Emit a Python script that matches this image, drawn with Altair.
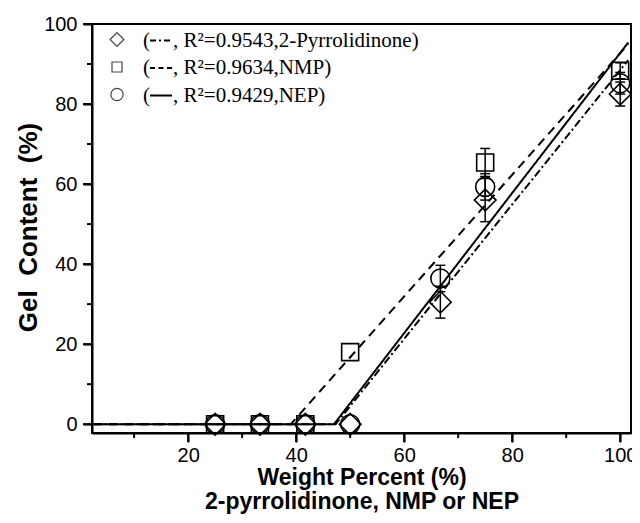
import altair as alt
import pandas as pd

# ---------------- data ----------------
series = ["2-Pyrrolidinone", "NMP", "NEP"]
r2_values = ["0.9543", "0.9634", "0.9429"]

x_pyr = [25, 33.3, 41.7, 50, 66.7, 75, 100]
y_pyr = [0, 0, 0, 0, 30.5, 56, 82.5]
e_pyr = [0, 0, 0, 0, 4, 5.4, 3]

x_nmp = [25, 33.3, 41.7, 50, 75, 100]
y_nmp = [0, 0, 0, 18, 65.4, 88.3]
e_nmp = [0, 0, 0, 0, 3.5, 2]

x_nep = [25, 33.3, 41.7, 50, 66.7, 75, 100]
y_nep = [0, 0, 0, 0, 36.4, 59.3, 85.2]
e_nep = [0, 0, 0, 0, 3.3, 3.3, 2.7]

# fitted lines (flat at zero, then linear) : break points
fit_x_pyr = [2.5, 47.3, 101.5]
fit_y_pyr = [0, 0, 91]
fit_x_nmp = [2.5, 39, 101.5]
fit_y_nmp = [0, 0, 95]
fit_x_nep = [2.5, 47, 101.5]
fit_y_nep = [0, 0, 95.4]

x_major = [20, 40, 60, 80, 100]
x_minor = [10, 30, 50, 70, 90]
y_major = [0, 20, 40, 60, 80, 100]
y_minor = [10, 30, 50, 70, 90]

# ---------------- tables ----------------
rows = []
for s, xs, ys, es in [(series[0], x_pyr, y_pyr, e_pyr),
                      (series[1], x_nmp, y_nmp, e_nmp),
                      (series[2], x_nep, y_nep, e_nep)]:
    for a, b, c in zip(xs, ys, es):
        rows.append({"series": s, "x": a, "y": b, "err": c})
pts = pd.DataFrame(rows)

frows = []
for s, xs, ys in [(series[0], fit_x_pyr, fit_y_pyr),
                  (series[1], fit_x_nmp, fit_y_nmp),
                  (series[2], fit_x_nep, fit_y_nep)]:
    for i, (a, b) in enumerate(zip(xs, ys)):
        frows.append({"series": s, "x": a, "y": b, "o": i})
fits = pd.DataFrame(frows)

leg = pd.DataFrame({"series": series, "r2": r2_values, "idx": [0, 1, 2]})

xt_major = pd.DataFrame({"x": x_major})
xt_minor = pd.DataFrame({"x": x_minor})
yt_major = pd.DataFrame({"y": y_major})
yt_minor = pd.DataFrame({"y": y_minor})

# ---------------- scales / axes ----------------
FONT = "Liberation Sans"
NB = "\u00a0"
W, H = 539, 409
XMIN, XMAX, YMIN, YMAX = 2.2, 102, -2.2, 100
xscale = alt.Scale(domain=[XMIN, XMAX], nice=False, zero=False)
yscale = alt.Scale(domain=[YMIN, YMAX], nice=False, zero=False)
shape_scale = alt.Scale(domain=series, range=["diamond", "square", "circle"])
dash_scale = alt.Scale(domain=series, range=[[8, 3, 2, 3], [9, 6], [1, 0]])

common_axis = dict(
    grid=False, domainColor="black", domainWidth=2,
    ticks=True, tickSize=9, tickWidth=2, tickColor="black",
    labelColor="black", titleColor="black", labelFont=FONT, titleFont=FONT,
    labelFontSize=20, titleFontWeight="bold",
    labelOverlap=False, labelFlush=False,
)
xaxis = alt.Axis(values=x_major, title=["Weight Percent (%)", "2-pyrrolidinone, NMP or NEP"],
                 titleFontSize=23, titleY=51, titleBaseline="alphabetic", titleLineHeight=24,
                 labelPadding=3, **common_axis)
yaxis = alt.Axis(values=y_major, title="Gel" + NB + NB + "Content" + NB + NB + "(%)",
                 titleFontSize=26, titleAngle=270,
                 titleX=-56, titleY=203, titleAlign="center", titleBaseline="alphabetic",
                 labelPadding=6, **common_axis)

def XF(f):
    return alt.X(f, scale=xscale, axis=xaxis)

def YF(f):
    return alt.Y(f, scale=yscale, axis=yaxis)

X = XF("x:Q")
Y = YF("y:Q")

# ---------------- axis ticks (outward, major + minor) ----------------
tk = dict(color="black", strokeWidth=2, clip=False)
xtick_major = alt.Chart(xt_major).mark_rule(**tk).encode(
    x=X, y=alt.value(H), y2=alt.value(H + 9))
xtick_minor = alt.Chart(xt_minor).mark_rule(**tk).encode(
    x=X, y=alt.value(H), y2=alt.value(H + 5))
ytick_major = alt.Chart(yt_major).mark_rule(**tk).encode(
    y=Y, x=alt.value(0), x2=alt.value(-9))
ytick_minor = alt.Chart(yt_minor).mark_rule(**tk).encode(
    y=Y, x=alt.value(0), x2=alt.value(-5))

# ---------------- layers ----------------
lines = alt.Chart(fits).mark_line(color="black", strokeWidth=2).encode(
    x=X, y=Y, detail="series:N", order="o:Q",
    strokeDash=alt.StrokeDash("series:N", scale=dash_scale, legend=None),
)

eb = alt.Chart(pts).transform_filter("datum.err > 0").transform_calculate(
    lo="datum.y - datum.err", hi="datum.y + datum.err")
err_rule = eb.mark_rule(color="black", strokeWidth=1.5).encode(
    x=X, y=YF("lo:Q"), y2="hi:Q")
cap_lo = eb.mark_rule(color="black", strokeWidth=1.5, xOffset=-5, x2Offset=5).encode(
    x=X, x2="x:Q", y=YF("lo:Q"))
cap_hi = eb.mark_rule(color="black", strokeWidth=1.5, xOffset=-5, x2Offset=5).encode(
    x=X, x2="x:Q", y=YF("hi:Q"))

points = alt.Chart(pts).transform_calculate(
    psize="datum.series === '2-Pyrrolidinone' ? 470 : (datum.series === 'NMP' ? 289 : 361)"
).mark_point(filled=False, color="black", strokeWidth=1.6, opacity=1).encode(
    x=X, y=Y,
    shape=alt.Shape("series:N", scale=shape_scale, legend=None),
    size=alt.Size("psize:Q", scale=None),
)

# ---------------- manual legend (placed in the top-left corner of the plot) ----------------
kx = f"({XMAX} - {XMIN}) / {W}"
ky = f"({YMAX} - {YMIN}) / {H}"
def gx(p):
    return f"{XMIN} + ({p}) * {kx}"
def gy(p):
    return f"{YMAX} - ({p}) * {ky}"

lg = alt.Chart(leg).transform_calculate(
    my=gy("15.5 + 27.5 * datum.idx"),
    mx=gx("25"),
    ty=gy("15.5 + 27.5 * datum.idx + 7"),
    ly=gy("15.5 + 27.5 * datum.idx + 1"),
    lx1=gx("58"), lx2=gx("80"), px=gx("51"), rx=gx("81"),
    msize="datum.idx === 0 ? 190 : (datum.idx === 1 ? 100 : 150)",
    rest="', R\u00b2=' + datum.r2 + ',' + datum.series + ')'",
)
leg_marks = lg.mark_point(filled=False, color="#444", strokeWidth=1.2, opacity=1).encode(
    x=XF("mx:Q"), y=YF("my:Q"),
    shape=alt.Shape("series:N", scale=shape_scale, legend=None),
    size=alt.Size("msize:Q", scale=None),
)
leg_paren = lg.mark_text(align="left", baseline="alphabetic", font="Liberation Serif",
                         fontSize=21, color="black").encode(
    x=XF("px:Q"), y=YF("ty:Q"), text=alt.value("("))
leg_text = lg.mark_text(align="left", baseline="alphabetic", font="Liberation Serif",
                        fontSize=21, color="black").encode(
    x=XF("rx:Q"), y=YF("ty:Q"), text="rest:N")
leg_dash = []
for i, d in enumerate([[6, 3, 2, 3], [5, 3.5], [1, 0]]):
    leg_dash.append(
        lg.transform_filter(f"datum.idx === {i}").mark_rule(
            color="black", strokeWidth=2.2, strokeDash=d).encode(
            x=XF("lx1:Q"), x2="lx2:Q", y=YF("ly:Q"))
    )

chart = alt.layer(
    lines, err_rule, cap_lo, cap_hi, points,
    leg_marks, leg_paren, leg_text, *leg_dash,
    xtick_major, xtick_minor, ytick_major, ytick_minor,
).properties(
    width=W, height=H,
    autosize=alt.AutoSizeParams(type="none"),
    padding={"left": 84, "top": 16, "right": 1, "bottom": 82},
    background="white",
).configure_view(stroke="black", strokeWidth=2)

chart.save("out.html", embed_options={"renderer": "svg", "actions": False})
